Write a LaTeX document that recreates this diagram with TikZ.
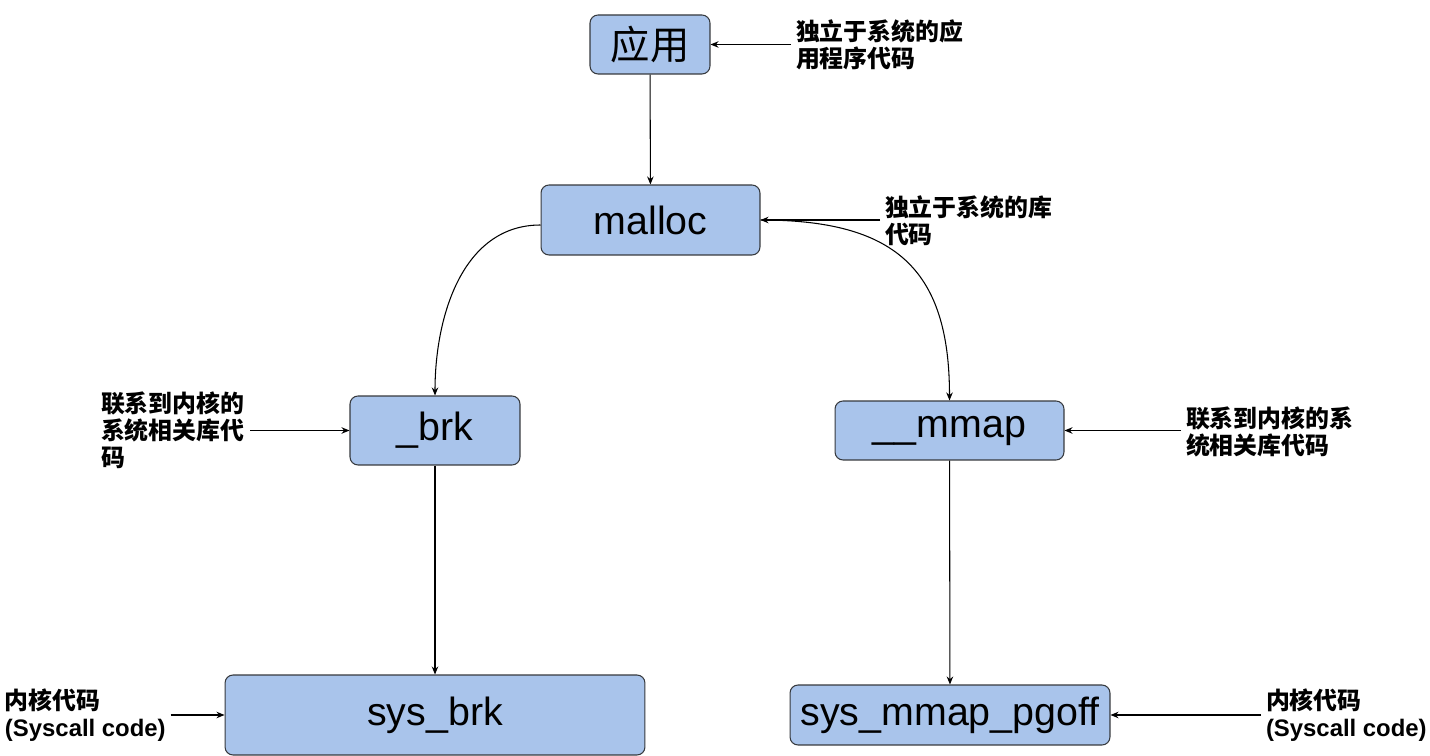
\documentclass[tikz,border=0pt]{standalone}
\usepackage{fontspec}
\setmainfont{Liberation Sans}
\newfontfamily\cjk{Noto Sans CJK SC}
\usepackage{xcolor}
\usetikzlibrary{arrows.meta,positioning}

\definecolor{boxfill}{HTML}{A9C4EB}
\definecolor{boxline}{HTML}{36393D}

\begin{document}
\begin{tikzpicture}[
    x=0.02cm, y=0.02cm,
    blk/.style={
        rectangle,
        rounded corners=0.16cm,
        draw=boxline,
        line width=0.6pt,
        fill=boxfill,
        align=center,
        inner sep=0pt,
        font=\fontsize{22.4}{26}\selectfont
    },
    note/.style={
        align=left,
        inner sep=0pt,
        outer sep=0.1cm,
        font=\fontsize{13.6}{15.4}\selectfont\bfseries
    },
    link/.style={-{Stealth[length=1.6mm,width=1.3mm]}, line width=0.6pt, draw=black}
]
\useasboundingbox (0,0) rectangle (1430,-756);

% =========================================================
% Code layers
% =========================================================
\node[blk, minimum width=2.4cm, minimum height=1.18cm] (app) at (650,-44.5) {\cjk 应用};
\node[blk, minimum width=4.38cm, minimum height=1.4cm] (malloc) at (650.5,-220) {malloc};
\node[blk, minimum width=3.4cm, minimum height=1.38cm] (brk) at (435,-430.5) {\_brk};
\node[blk, minimum width=4.58cm, minimum height=1.18cm] (mmap) at (949.5,-430.5) {\_\_mmap};
\node[blk, minimum width=8.4cm, minimum height=1.6cm] (sysbrk) at (435,-715) {sys\_brk};
\node[blk, minimum width=6.4cm, minimum height=1.2cm] (sysmmap) at (950,-715) {sys\_mmap\_pgoff};

% Notes
\node[note, anchor=west] (lblApp) at (791,-44.5) {\cjk 独立于系统的应\\\cjk 用程序代码};
\node[note, anchor=west] (lblMalloc) at (880,-221) {\cjk 独立于系统的库\\\cjk 代码};
\node[note, anchor=east] (lblBrk) at (250,-430.5) {};
\node[note, anchor=west] at (96,-430.5) {\cjk 联系到内核的\\\cjk 系统相关库代\\\cjk 码};
\node[note, anchor=west] (lblMmap) at (1181,-432) {\cjk 联系到内核的系\\\cjk 统相关库代码};
\node[note, anchor=west] (lblSysBrk) at (0,-715) {{\cjk 内核代码}\\(Syscall code)};
\node[note, anchor=west] (lblSysMmap) at (1261,-715) {{\cjk 内核代码}\\(Syscall code)};

% =========================================================
% Calls
% =========================================================
\draw[link] (app) -- (malloc);
\draw[link] ([yshift=-0.1cm]malloc.west) to[out=180, in=90] (brk.north);
\draw[link] (malloc.east) to[out=0, in=90, looseness=1.3] (mmap.north);
\draw[link] (brk) -- (sysbrk);
\draw[link] (mmap) -- (sysmmap);

% Note arrows
\draw[link] (lblApp.west) -- (app.east);
\draw[link] (lblMalloc.west |- malloc.east) -- (malloc.east);
\draw[link] (lblBrk.east) -- (brk.west);
\draw[link] (lblMmap.west |- mmap.east) -- (mmap.east);
\draw[link] (lblSysBrk.east) -- (sysbrk.west);
\draw[link] (lblSysMmap.west) -- (sysmmap.east);

\end{tikzpicture}
\end{document}
